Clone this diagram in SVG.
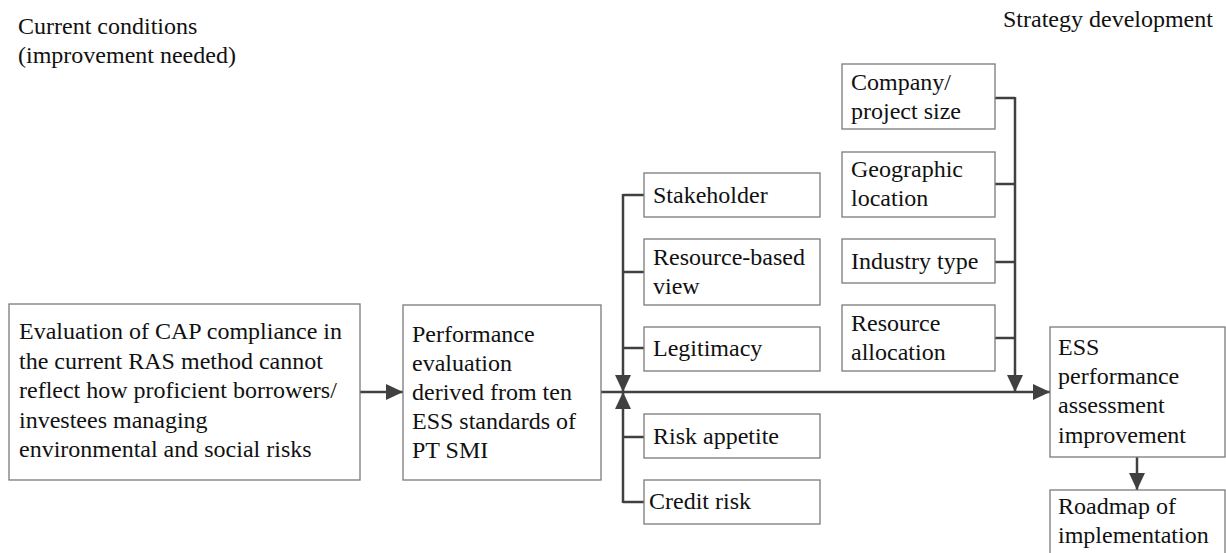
<svg xmlns="http://www.w3.org/2000/svg" width="1226" height="553" viewBox="0 0 1226 553">
<defs>
<marker id="ah" markerUnits="userSpaceOnUse" markerWidth="17" markerHeight="16" refX="17" refY="8" orient="auto">
<path d="M0,0 L17,8 L0,16 z" fill="#404040"/>
</marker>
<style>
text{font-family:"Liberation Serif","Times New Roman",serif;font-size:24px;fill:#111;}
rect{fill:#fff;stroke:#7a7a7a;stroke-width:1.3;}
.c{fill:none;stroke:#404040;stroke-width:2.5;}
.a{marker-end:url(#ah);}
</style>
</defs>
<rect x="0" y="0" width="1226" height="553" style="fill:#fff;stroke:none"/>
<g id="headers">
<text x="18" y="34">Current conditions</text>
<text x="18" y="63">(improvement needed)</text>
<text x="1003" y="27">Strategy development</text>
</g>
<g id="connectors">
<line class="c a" x1="360" y1="392" x2="403" y2="392"/>
<line class="c a" x1="601" y1="392" x2="1050" y2="392"/>
<polyline class="c" points="644,195 623,195"/>
<line class="c" x1="623" y1="272" x2="644" y2="272"/>
<line class="c" x1="623" y1="348" x2="644" y2="348"/>
<line class="c a" x1="623" y1="194" x2="623" y2="392"/>
<line class="c" x1="623" y1="437" x2="644" y2="437"/>
<polyline class="c" points="644,502 623,502"/>
<line class="c a" x1="623" y1="503" x2="623" y2="392"/>
<line class="c" x1="995" y1="98" x2="1015" y2="98"/>
<line class="c" x1="995" y1="184" x2="1015" y2="184"/>
<line class="c" x1="995" y1="262" x2="1015" y2="262"/>
<line class="c" x1="995" y1="338" x2="1015" y2="338"/>
<line class="c a" x1="1015" y1="97" x2="1015" y2="392"/>
<line class="c a" x1="1137" y1="457" x2="1137" y2="490"/>
</g>
<g id="n-cap">
<rect x="9" y="304" width="351" height="176"/>
<text x="19" y="339">Evaluation of CAP compliance in</text>
<text x="19" y="368.5">the current RAS method cannot</text>
<text x="19" y="398">reflect how proficient borrowers/</text>
<text x="19" y="427.5">investees managing</text>
<text x="19" y="457">environmental and social risks</text>
</g>
<g id="n-perf">
<rect x="403" y="305" width="198" height="175"/>
<text x="412" y="342">Performance</text>
<text x="412" y="371">evaluation</text>
<text x="412" y="400">derived from ten</text>
<text x="412" y="429">ESS standards of</text>
<text x="412" y="458">PT SMI</text>
</g>
<g id="n-stakeholder">
<rect x="644" y="173" width="176" height="44"/>
<text x="653" y="203">Stakeholder</text>
</g>
<g id="n-rbv">
<rect x="644" y="239" width="176" height="66"/>
<text x="653" y="265">Resource-based</text>
<text x="653" y="294">view</text>
</g>
<g id="n-legitimacy">
<rect x="644" y="327" width="176" height="44"/>
<text x="653" y="356">Legitimacy</text>
</g>
<g id="n-risk">
<rect x="644" y="414" width="176" height="44"/>
<text x="653" y="444">Risk appetite</text>
</g>
<g id="n-credit">
<rect x="644" y="480" width="176" height="44"/>
<text x="649" y="509">Credit risk</text>
</g>
<g id="n-size">
<rect x="842" y="64" width="153" height="65"/>
<text x="851" y="90">Company/</text>
<text x="851" y="119">project size</text>
</g>
<g id="n-geo">
<rect x="842" y="152" width="153" height="65"/>
<text x="851" y="177">Geographic</text>
<text x="851" y="206">location</text>
</g>
<g id="n-industry">
<rect x="842" y="239" width="153" height="44"/>
<text x="851" y="269">Industry type</text>
</g>
<g id="n-alloc">
<rect x="842" y="305" width="153" height="66"/>
<text x="851" y="331">Resource</text>
<text x="851" y="360">allocation</text>
</g>
<g id="n-ess">
<rect x="1050" y="327" width="175" height="130"/>
<text x="1058" y="355">ESS</text>
<text x="1058" y="384">performance</text>
<text x="1058" y="413">assessment</text>
<text x="1058" y="443">improvement</text>
</g>
<g id="n-roadmap">
<rect x="1050" y="490" width="175" height="75"/>
<text x="1058" y="514">Roadmap of</text>
<text x="1058" y="543">implementation</text>
</g>
</svg>
